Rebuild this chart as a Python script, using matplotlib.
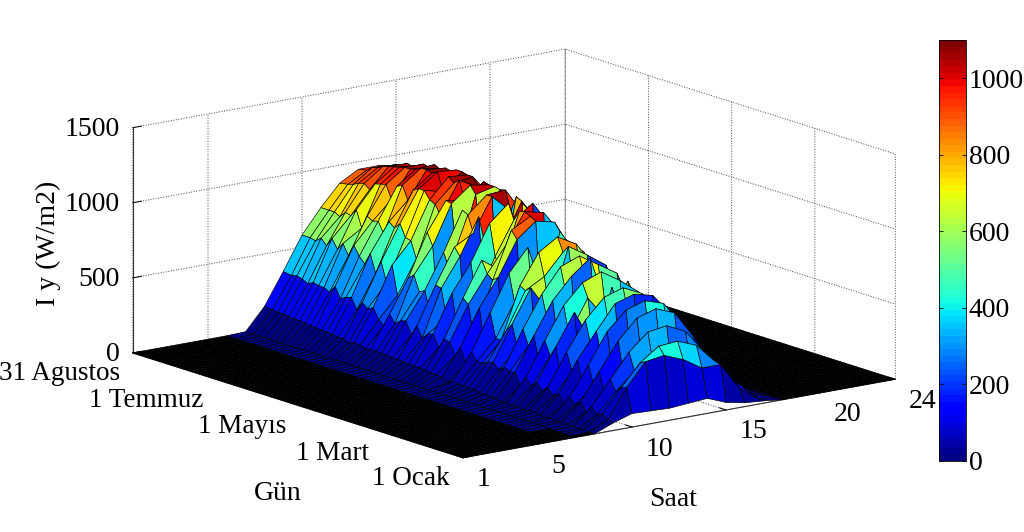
import numpy as np
import matplotlib
matplotlib.use("Agg")
import matplotlib.pyplot as plt
from matplotlib import cm
from matplotlib.colors import Normalize
from matplotlib.transforms import Affine2D

plt.rcParams['font.family'] = ['Liberation Serif', 'DejaVu Serif']

hours = list(range(1, 25))
daylight_hours = [7, 8, 9, 10, 11, 12, 13, 14, 15, 16, 17, 18]
days = list(range(1, 238, 4)) + [243]
irradiance = [
 [0,0,50,90,85,80,90,100,50,25,15,0],
 [0,0,60,250,400,420,370,290,290,110,20,0],
 [0,5,90,240,380,470,480,430,300,150,30,0],
 [0,0,70,200,310,330,250,280,320,170,30,0],
 [0,5,110,270,430,540,560,500,340,170,35,0],
 [0,5,60,150,260,300,340,230,160,120,40,0],
 [5,10,120,300,480,610,650,600,420,210,50,0],
 [5,5,90,190,210,290,420,360,300,120,30,0],
 [5,10,130,320,520,640,680,640,460,240,50,0],
 [5,5,60,160,330,220,180,170,150,200,50,0],
 [5,10,130,330,500,660,700,670,520,280,70,0],
 [5,15,100,240,390,470,560,230,190,260,70,0],
 [5,15,150,360,550,680,720,660,540,290,80,0],
 [5,10,110,180,160,340,560,620,430,300,90,0],
 [5,20,160,370,580,330,700,240,190,310,100,5],
 [5,20,120,300,420,640,470,350,520,320,100,5],
 [5,25,170,390,600,730,780,700,600,340,110,5],
 [5,15,90,220,330,250,430,640,450,260,90,5],
 [5,30,180,400,610,750,850,430,650,360,120,5],
 [5,25,170,320,470,620,720,500,270,330,120,5],
 [5,35,190,420,630,790,840,760,680,370,130,10],
 [5,30,160,280,200,350,590,210,610,370,130,10],
 [5,40,200,430,650,460,880,800,710,390,140,10],
 [5,40,190,380,620,690,830,600,250,400,150,10],
 [5,45,170,300,640,840,920,850,670,410,160,15],
 [5,40,170,300,520,450,680,840,420,280,140,15],
 [5,50,220,460,700,850,450,860,750,440,170,15],
 [5,30,130,210,180,300,350,900,480,300,120,15],
 [5,55,230,470,650,880,980,950,720,450,180,20],
 [5,60,160,250,620,930,1000,360,200,470,190,20],
 [5,60,240,470,650,820,1020,990,820,480,200,20],
 [5,65,250,500,730,640,1010,220,460,500,210,25],
 [5,70,180,260,450,720,940,1030,850,510,210,25],
 [5,70,260,510,690,930,1040,680,250,520,220,30],
 [5,75,250,330,190,420,780,1020,840,540,230,30],
 [5,75,210,520,710,950,360,1040,880,550,240,30],
 [5,80,280,530,760,830,1050,930,650,520,230,30],
 [5,80,210,320,610,940,1050,1060,870,570,250,35],
 [5,85,290,470,700,960,650,1050,900,570,250,35],
 [5,85,280,450,300,620,1030,1060,880,570,250,35],
 [5,90,250,550,720,980,1080,1060,900,580,260,35],
 [5,90,300,520,800,990,960,1070,900,590,260,35],
 [5,80,210,360,620,880,1090,1020,850,590,270,35],
 [5,95,240,380,600,940,1060,1080,920,600,270,35],
 [5,100,310,570,710,960,1090,1080,910,600,270,35],
 [5,85,290,440,720,1010,980,1090,900,610,270,30],
 [5,105,320,570,800,1010,1100,1090,910,610,270,30],
 [5,100,260,480,760,990,1080,1070,900,600,260,30],
 [5,110,330,600,790,910,1090,1080,900,600,260,30],
 [5,110,320,520,700,1000,1090,1060,900,590,250,25],
 [5,115,300,560,770,980,1070,1080,880,580,250,25],
 [5,115,370,620,760,880,1060,1050,890,570,240,25],
 [5,120,320,540,780,970,1060,1060,870,570,230,20],
 [5,125,340,610,690,960,1050,1040,860,560,230,20],
 [5,130,340,560,800,950,1040,1020,860,550,220,20],
 [5,130,350,620,750,900,1030,1030,850,540,210,15],
 [5,135,330,560,760,930,1020,1010,830,530,200,15],
 [5,140,350,600,720,920,1000,1000,820,520,190,10],
 [5,140,360,570,740,900,990,980,800,500,180,10],
 [5,145,350,580,740,890,960,970,790,490,170,5],
 [5,150,360,580,740,880,950,950,780,480,160,5],
]
hour_ticks = [1, 5, 10, 15, 20, 24]
day_ticks = [1, 60, 121, 182, 243]
day_labels = ['1 Ocak', '1 Mart', '1 Mayıs', '1 Temmuz', '31 Agustos']
z_ticks = [0, 500, 1000, 1500]
cbar_ticks = [0, 200, 400, 600, 800, 1000]

Z = np.zeros((len(days), len(hours)))
Z[:, [h - 1 for h in daylight_hours]] = np.array(irradiance, dtype=float)
X, Y = np.meshgrid(hours, days)

W, H = 1024, 532
fig = plt.figure(figsize=(W / 100, H / 100), dpi=100)
S = 781
cx, cy = 503.5, 268
ax = fig.add_axes([(cx - S / 2) / W, (cy - S / 2) / H, S / W, S / H], projection='3d')
ax.set_proj_type('ortho')
ax.view_init(elev=13.9, azim=-127.1)
ax.set_box_aspect((542, 547, 232), zoom=1.0)

norm = Normalize(0, 1100)
jet = matplotlib.colormaps['jet'].resampled(64)
fc = jet(norm(Z))
flat = np.zeros_like(Z, dtype=bool)
flat[:-1, :-1] = (Z[:-1, :-1] == 0) & (Z[1:, :-1] == 0) & (Z[:-1, 1:] == 0) & (Z[1:, 1:] == 0)
fc[flat] = (0, 0, 0, 1)
ax.plot_surface(X, Y, Z, facecolors=fc, rstride=1, cstride=1, shade=False,
                edgecolor='k', linewidth=0.45, antialiased=True)

ax.set_xlim(1, 24, view_margin=0)
ax.set_ylim(1, 243, view_margin=0)
ax.set_zlim(0, 1500, view_margin=0)
ax.set_xticks(hour_ticks)
ax.set_xticklabels([str(h) for h in hour_ticks], ha='left')
ax.set_yticks(day_ticks)
ax.set_yticklabels(day_labels, ha='right')
ax.set_zticks(z_ticks)
ax.set_zticklabels([str(z) for z in z_ticks], ha='right')
for axis in (ax.xaxis, ax.yaxis, ax.zaxis):
    axis.set_pane_color((1, 1, 1, 1))
    axis.pane.set_edgecolor((1, 1, 1, 0))
    axis._axinfo['grid'].update(color='#444444', linestyle=':', linewidth=0.7)
    axis._axinfo['tick'].update(inward_factor=0.0, outward_factor=0.25, linewidth={True: 0.7, False: 0.5})
    axis.line.set_color('#333333')
    axis.line.set_linewidth(0.8)
ax.tick_params(axis='x', labelsize=20, pad=-4)
ax.tick_params(axis='y', labelsize=19.5, pad=-12)
ax.tick_params(axis='z', labelsize=20, pad=-10)
ax.patch.set_alpha(0)


def shift_tick_labels(axis, dx, dy):
    original = axis.get_major_ticks

    def patched(numticks=None):
        ticks = original(numticks)
        for tick in ticks:
            tick.label1.set_transform(ax.transData + Affine2D().translate(dx, dy))
        return ticks
    axis.get_major_ticks = patched


shift_tick_labels(ax.xaxis, 9, -5)
shift_tick_labels(ax.yaxis, -19, -12.5)
shift_tick_labels(ax.zaxis, -18, 11)

fig.text(673 / W, 1 - 500 / H, 'Saat', fontsize=20, ha='center', va='center')
fig.text(278 / W, 1 - 494 / H, 'Gün', fontsize=20, ha='center', va='center')
fig.text(48 / W, 1 - 243 / H, 'I y (W/m2)', fontsize=20, rotation=90, ha='center', va='center')

cax = fig.add_axes([939 / W, 1 - 461 / H, 27 / W, 421 / H])
sm = cm.ScalarMappable(norm=norm, cmap=jet)
cb = fig.colorbar(sm, cax=cax, ticks=cbar_ticks)
cb.ax.tick_params(direction='in', length=3, width=0.6, labelsize=20, left=True, right=True, pad=2)
cb.outline.set_linewidth(0.6)

fig.savefig('out.png', dpi=100)
